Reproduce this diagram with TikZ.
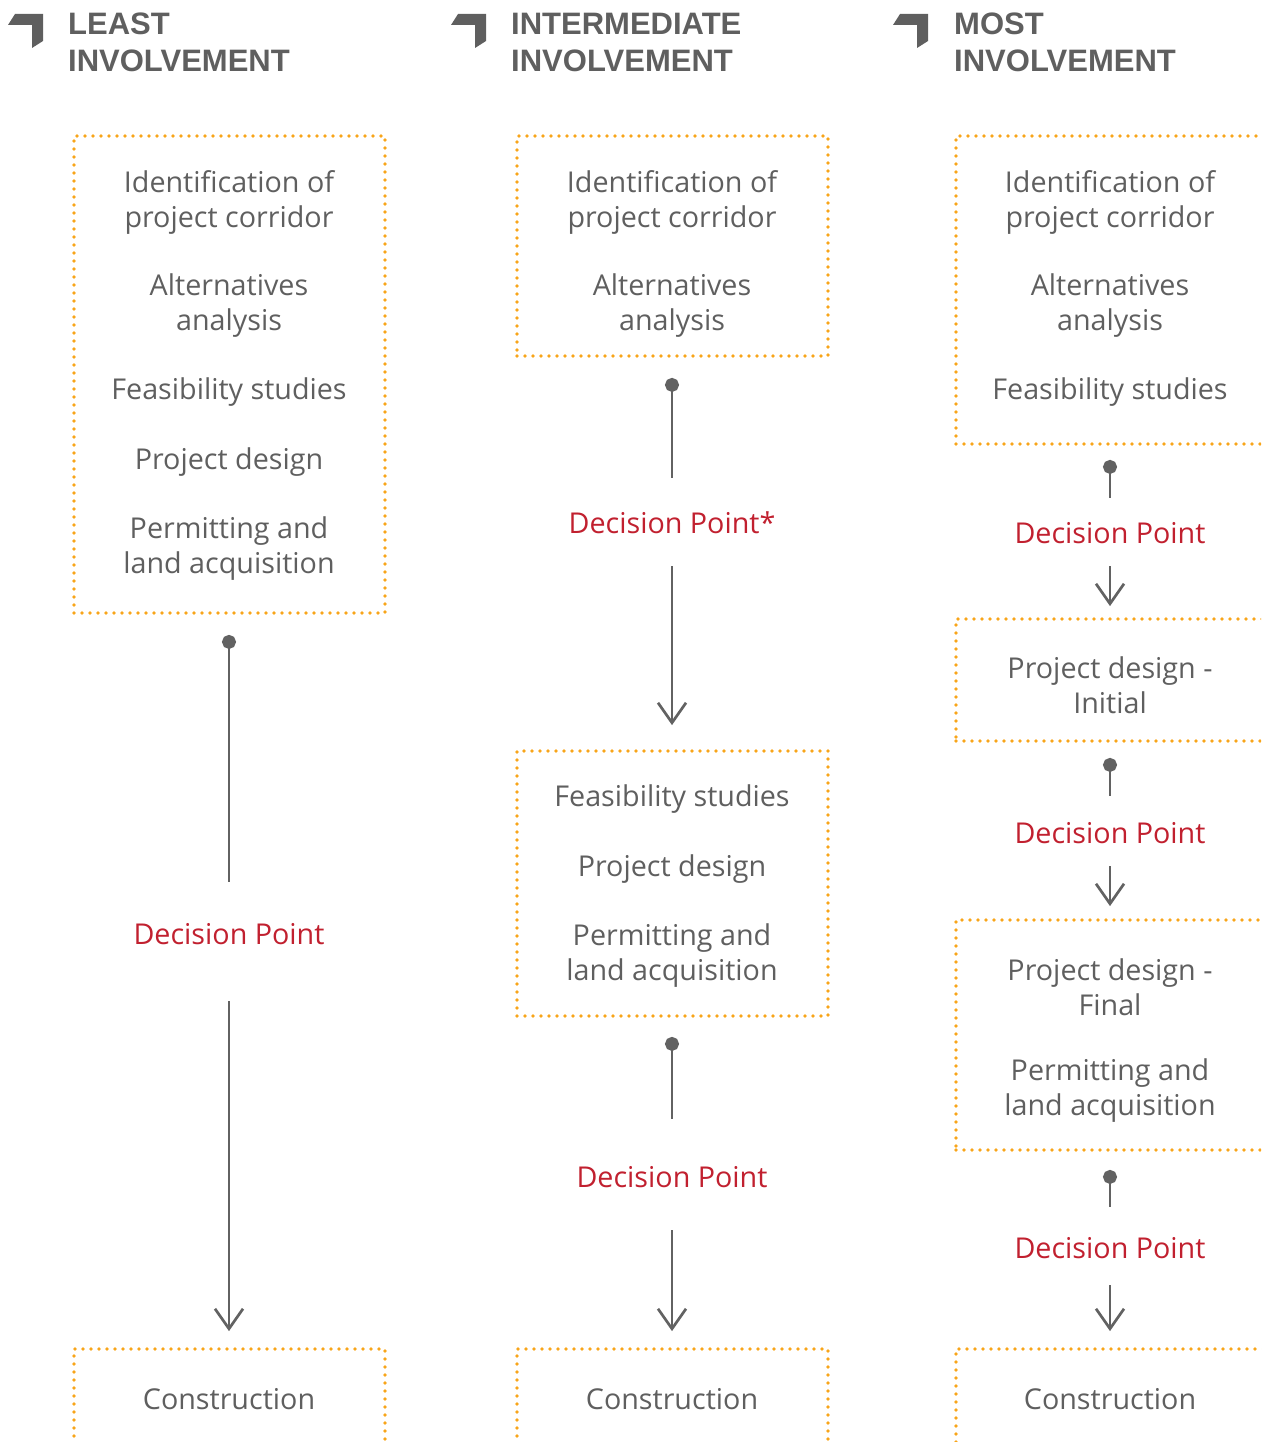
\documentclass[tikz,border=0pt]{standalone}
\usepackage{fontspec}
\setmainfont{Open Sans}
\newfontfamily\hdrfont{Liberation Sans}
\usetikzlibrary{arrows.meta}
\definecolor{dotorange}{HTML}{F8A51A}
\definecolor{dpred}{HTML}{C1202F}
\definecolor{txtgray}{HTML}{5F5F5F}
\definecolor{linegray}{HTML}{626262}
\tikzset{
  stagebox/.style={draw=dotorange, line width=3.8pt, dash pattern=on 0pt off 8pt, line cap=round, inner sep=0pt, minimum width=311pt},
  item/.style={text=txtgray, font=\fontsize{28.7}{35}\selectfont, align=center, inner sep=0pt},
  dpoint/.style={text=dpred, font=\fontsize{28.7}{35}\selectfont, inner sep=0pt},
  hdr/.style={text=txtgray, font=\hdrfont\bfseries\fontsize{31}{37}\selectfont, anchor=base west, inner sep=0pt},
  stem/.style={draw=linegray, line width=2.7pt, {Circle[length=14pt]}-},
  arr/.style={draw=linegray, line width=2.7pt, -{Straight Barb[length=20pt,width=28pt]}},
  hicon/.style={fill=txtgray},
}
\begin{document}
\begin{tikzpicture}[x=1pt,y=-1pt]
\useasboundingbox (0,0) rectangle (1261,1442);
\clip (0,0) rectangle (1261,1442);
% headers
\foreach \ox in {0,443,885}{
  \fill[hicon] (\ox+15,14) -- (\ox+43,14) -- (\ox+43,41) -- (\ox+32,48) -- (\ox+32,25) -- (\ox+8,25) -- cycle;
}
\node[hdr] (h1a) at (68,35) {LEAST};
\node[hdr] (h1b) at (68,72) {INVOLVEMENT};
\node[hdr] (h2a) at (511,35) {INTERMEDIATE};
\node[hdr] (h2b) at (511,72) {INVOLVEMENT};
\node[hdr] (h3a) at (954,35) {MOST};
\node[hdr] (h3b) at (954,72) {INVOLVEMENT};

% column 1
\node[stagebox, minimum height=477pt] (b1) at (229.5,374.5) {};
\node[item] (id1) at (229,202) {Identification of\\project corridor};
\node[item] (alt1) at (229,306) {Alternatives\\analysis};
\node[item] (fea1) at (229,392.5) {Feasibility studies};
\node[item] (pd1) at (229,462.5) {Project design};
\node[item] (perm1) at (229,549) {Permitting and\\land acquisition};
\node[dpoint] (dp1) at (229,934) {Decision Point};
\node[stagebox, minimum height=131pt] (con1) at (229.5,1414.5) {};
\node[item] (ct1) at (229,1399.5) {Construction};
\draw[stem, shorten <=20pt, shorten >=52pt] (b1.south -| dp1.center) -- (dp1.center);
\draw[arr, shorten <=67pt, shorten >=16pt] (dp1.center) -- (con1.north -| dp1.center);

% column 2
\node[stagebox, minimum height=220pt] (b2a) at (672.5,246) {};
\node[item] (id2) at (672,202) {Identification of\\project corridor};
\node[item] (alt2) at (672,306) {Alternatives\\analysis};
\node[dpoint] (dp2a) at (672,522.5) {Decision Point*};
\node[stagebox, minimum height=265pt] (b2b) at (672.5,883.5) {};
\node[item] (fea2) at (672,799.5) {Feasibility studies};
\node[item] (pd2) at (672,869.5) {Project design};
\node[item] (perm2) at (672,956) {Permitting and\\land acquisition};
\node[dpoint] (dp2b) at (672,1177.5) {Decision Point};
\node[stagebox, minimum height=131pt] (con2) at (672.5,1414.5) {};
\node[item] (ct2) at (672,1399.5) {Construction};
\draw[stem, shorten <=20pt, shorten >=44.5pt] (b2a.south -| dp2a.center) -- (dp2a.center);
\draw[arr, shorten <=43.5pt, shorten >=24pt] (dp2a.center) -- (b2b.north -| dp2a.center);
\draw[stem, shorten <=19pt, shorten >=58.5pt] (b2b.south -| dp2b.center) -- (dp2b.center);
\draw[arr, shorten <=52.5pt, shorten >=16pt] (dp2b.center) -- (con2.north -| dp2b.center);

% column 3
\node[stagebox, minimum width=344pt, minimum height=308pt] (b3a) at (1128,290) {};
\node[item] (id3) at (1110,202) {Identification of\\project corridor};
\node[item] (alt3) at (1110,306) {Alternatives\\analysis};
\node[item] (fea3) at (1110,392.5) {Feasibility studies};
\node[dpoint] (dp3a) at (1110,533.5) {Decision Point};
\node[stagebox, minimum width=344pt, minimum height=122pt] (b3b) at (1128,680) {};
\node[item] (pdi3) at (1110,685) {Project design -\\Initial};
\node[dpoint] (dp3b) at (1110,833.5) {Decision Point};
\node[stagebox, minimum width=344pt, minimum height=230pt] (b3c) at (1128,1035) {};
\node[item] (pdf3) at (1110,987) {Project design -\\Final};
\node[item] (perm3) at (1110,1091) {Permitting and\\land acquisition};
\node[dpoint] (dp3c) at (1110,1248.5) {Decision Point};
\node[stagebox, minimum width=344pt, minimum height=131pt] (con3) at (1128,1414.5) {};
\node[item] (ct3) at (1110,1399.5) {Construction};
\draw[stem, shorten <=14pt, shorten >=35.5pt] (b3a.south -| dp3a.center) -- (dp3a.center);
\draw[arr, shorten <=32.5pt, shorten >=11pt] (dp3a.center) -- (b3b.north -| dp3a.center);
\draw[stem, shorten <=15pt, shorten >=37.5pt] (b3b.south -| dp3b.center) -- (dp3b.center);
\draw[arr, shorten <=32.5pt, shorten >=12pt] (dp3b.center) -- (b3c.north -| dp3b.center);
\draw[stem, shorten <=18pt, shorten >=41.5pt] (b3c.south -| dp3c.center) -- (dp3c.center);
\draw[arr, shorten <=36.5pt, shorten >=16pt] (dp3c.center) -- (con3.north -| dp3c.center);
\end{tikzpicture}
\end{document}
